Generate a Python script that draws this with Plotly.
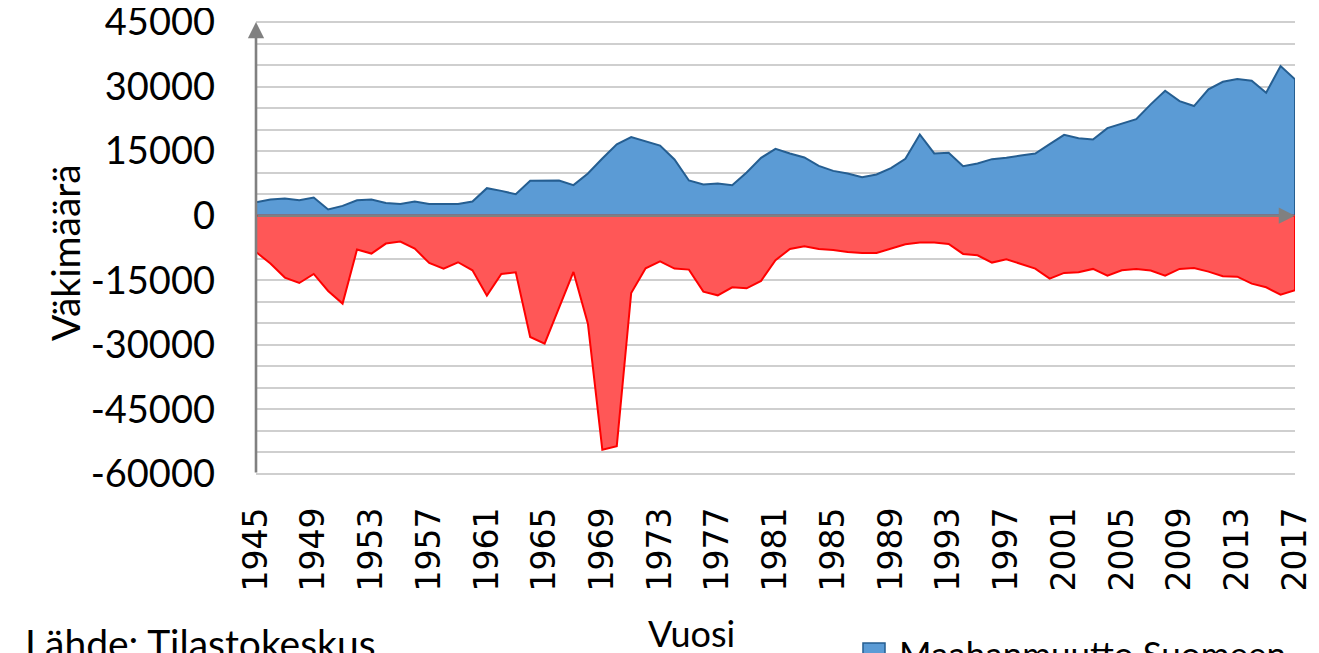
import plotly.graph_objects as go

years = list(range(1945, 2018))

maahanmuutto = [
    3140, 3770, 4000, 3600, 4230, 1440, 2290, 3600, 3770, 2980,
    2750, 3300, 2750, 2670, 2750, 3300, 6400, 5770, 5000, 8100,
    8180, 8180, 7100, 9800, 13300, 16600, 18250, 17250, 16300, 13070,
    8180, 7250, 7480, 7090, 10040, 13450, 15540, 14460, 13530, 11590,
    10420, 9800, 8950, 9580, 11050, 13210, 18880, 14460, 14600, 11510,
    12140, 13140, 13450, 14000, 14460, 16630, 18800, 18020, 17720, 20350,
    21350, 22440, 25860, 29030, 26630, 25470, 29340, 31120, 31740, 31350,
    28560, 34770, 31670,
]

maastamuutto = [
    -8420, -11120, -14370, -15630, -13530, -17490, -20420, -7860, -8790, -6470,
    -6000, -7630, -10970, -12290, -10810, -12670, -18570, -13530, -13140, -28180,
    -29730, -21360, -13060, -25080, -54380, -53530, -17940, -12210, -10580, -12290,
    -12520, -17640, -18490, -16630, -16860, -15150, -10350, -7710, -7090, -7710,
    -7940, -8410, -8640, -8640, -7560, -6630, -6240, -6240, -6550, -8880,
    -9190, -10890, -10120, -11120, -12290, -14610, -13290, -13140, -12360, -13920,
    -12670, -12360, -12750, -13920, -12360, -12130, -12980, -14070, -14150, -15780,
    -16630, -18330, -17330,
]

year_ticks = years[::4]
y_ticks = [45000, 30000, 15000, 0, -15000, -30000, -45000, -60000]

SANS = "Lato, 'Open Sans', sans-serif"
BLUE_FILL, BLUE_LINE = "#5B9BD5", "#255E91"
RED_FILL, RED_LINE = "#FF5757", "#FF0000"


def closed(xs, ys):
    # close the area polygon back to the zero baseline
    return xs + [xs[-1], xs[0]], ys + [0, 0]


fig = go.Figure()

bx, by = closed(years, maahanmuutto)
fig.add_trace(go.Scatter(
    x=bx, y=by, mode="lines", fill="toself",
    fillcolor=BLUE_FILL, line=dict(color=BLUE_LINE, width=2),
    name="Maahanmuutto Suomeen",
))

rx, ry = closed(years, maastamuutto)
fig.add_trace(go.Scatter(
    x=rx, y=ry, mode="lines", fill="toself",
    fillcolor=RED_FILL, line=dict(color=RED_LINE, width=2),
    name="Maastamuutto Suomesta",
))

grid_col = "#CFCFCF"

fig.update_xaxes(
    range=[1945, 2017],
    tickvals=year_ticks,
    ticktext=[str(y) for y in year_ticks],
    tickangle=-90,
    tickfont=dict(family="DejaVu Sans", size=33, color="#000000"),
    showgrid=False, zeroline=False, showline=False,
    ticks="", ticklabelstandoff=24, ticklabeloverflow="allow",
)
fig.update_yaxes(
    range=[-60465, 45465],
    tickvals=y_ticks,
    ticktext=[str(v) for v in y_ticks],
    tickfont=dict(family=SANS, size=38, color="#000000"),
    showgrid=True, gridcolor=grid_col, gridwidth=1.6,
    minor=dict(dtick=5000, tick0=0, showgrid=True, gridcolor=grid_col, gridwidth=1.6),
    zeroline=False, showline=False, ticks="",
    ticklabelstandoff=40, ticklabeloverflow="allow",
)

arrow_col = "#808080"
# y axis with arrow at the top
fig.add_annotation(
    x=1945, y=45000, ax=1945, ay=-60000, xref="x", yref="y", axref="x", ayref="y",
    text="", showarrow=True, arrowhead=2, arrowsize=1.25, arrowwidth=2.6,
    arrowcolor=arrow_col, standoff=0,
)
# x axis along zero with arrow at the right
fig.add_annotation(
    x=2017, y=0, ax=1945, ay=0, xref="x", yref="y", axref="x", ayref="y",
    text="", showarrow=True, arrowhead=2, arrowsize=1.25, arrowwidth=2.6,
    arrowcolor=arrow_col, standoff=0,
)

fig.add_annotation(
    text="Väkimäärä", xref="paper", yref="paper", x=-0.184, y=0.491,
    xanchor="center", yanchor="middle",
    textangle=-90, showarrow=False, font=dict(family=SANS, size=39, color="#000000"),
)
fig.add_annotation(
    text="Vuosi", xref="paper", yref="paper", x=0.4196, y=-0.3443,
    xanchor="center", yanchor="middle",
    showarrow=False, font=dict(family=SANS, size=36, color="#000000"),
)
fig.add_annotation(
    text="Lähde: Tilastokeskus", xref="paper", yref="paper", x=-0.2243, y=-0.3662,
    xanchor="left", yanchor="middle", showarrow=False,
    font=dict(family=SANS, size=39, color="#000000"),
)

# legend (only its first row is visible inside the picture)
fig.add_shape(
    type="rect", xref="paper", yref="paper",
    x0=0.5842, x1=0.6054, y0=-0.3662, y1=-0.4145,
    fillcolor=BLUE_FILL, line=dict(color=BLUE_LINE, width=1.5),
)
fig.add_annotation(
    text="Maahanmuutto Suomeen", xref="paper", yref="paper", x=0.6169, y=-0.3882,
    xanchor="left", yanchor="middle", showarrow=False,
    font=dict(family=SANS, size=35, color="#000000"),
)

# page body has an 8px margin: shrink the figure so the plot lands where intended
fig.update_layout(
    width=1311, height=645,
    margin=dict(l=248, r=24, t=12, b=177, autoexpand=False),
    plot_bgcolor="white", paper_bgcolor="white",
    showlegend=False,
)

fig.write_html("out.html")
